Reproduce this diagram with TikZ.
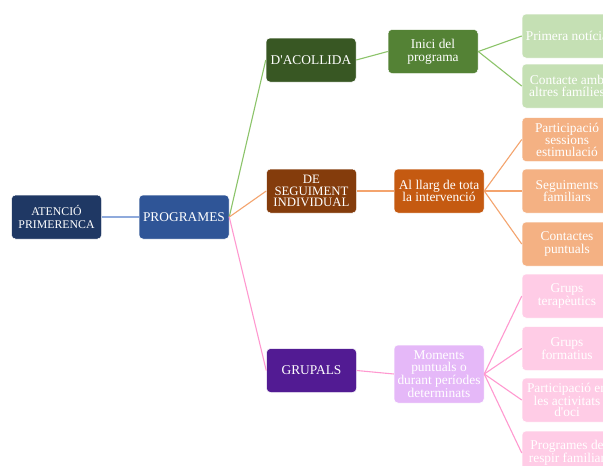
\documentclass[tikz,border=0pt]{standalone}
\usepackage{fontspec}
\setmainfont{Liberation Serif}
\definecolor{navy}{HTML}{1F3864}
\definecolor{progblue}{HTML}{2F5597}
\definecolor{dkgreen}{HTML}{385723}
\definecolor{mdgreen}{HTML}{548235}
\definecolor{ltgreen}{HTML}{C5E0B4}
\definecolor{dkbrown}{HTML}{843C0C}
\definecolor{mdorange}{HTML}{C55A11}
\definecolor{ltorange}{HTML}{F4B183}
\definecolor{dkpurple}{HTML}{521B93}
\definecolor{lavender}{HTML}{E5B8F8}
\definecolor{ltpink}{HTML}{FFCCE6}
\definecolor{lnblue}{HTML}{8FAADC}
\definecolor{lngreen}{HTML}{8CC46A}
\definecolor{lnorange}{HTML}{F4A46E}
\definecolor{lnpink}{HTML}{FF99D0}
\tikzset{
  box/.style={rounded corners=4pt, minimum width=90pt, minimum height=44pt,
    text=white, align=center, inner sep=1pt, draw=white, line width=0.5pt,
    font=\fontsize{13.4}{12.5}\selectfont},
  link/.style={line width=1.1pt},
}
\begin{document}
\begin{tikzpicture}[x=1pt,y=-1pt]
\clip (0,0) rectangle (603,466);
\fill[white] (0,0) rectangle (603,466);
% root and programme level
\node[box, fill=navy, font=\fontsize{11.8}{12.3}\selectfont] (root) at (56.5,217) {ATENCIÓ\\PRIMERENCA};
\node[box, fill=progblue] (prog) at (184,217) {PROGRAMES};
% programme types
\node[box, fill=dkgreen] (acoll) at (311,60) {D\textquotesingle ACOLLIDA};
\node[box, fill=dkbrown, font=\fontsize{12.8}{11.3}\selectfont] (segui) at (311.5,191) {DE\\SEGUIMENT\\INDIVIDUAL};
\node[box, fill=dkpurple] (grup) at (311.5,370.5) {GRUPALS};
% timing
\node[box, fill=mdgreen, font=\fontsize{13.4}{13.3}\selectfont] (inici) at (433,51.5) {Inici del\\programa};
\node[box, fill=mdorange] (llarg) at (439,191) {Al llarg de tota\\la intervenció};
\node[box, fill=lavender, minimum height=58pt, font=\fontsize{13.4}{12}\selectfont] (mom) at (439,374) {Moments\\puntuals o\\durant períodes\\determinats};
% activities
\node[box, fill=ltgreen] (a1) at (567,36) {Primera notícia};
\node[box, fill=ltgreen] (a2) at (567,86) {Contacte amb\\altres famílies};
\node[box, fill=ltorange, font=\fontsize{13.4}{11.3}\selectfont] (b1) at (567,139.5) {Participació\\sessions\\estimulació};
\node[box, fill=ltorange] (b2) at (567,191) {Seguiments\\familiars};
\node[box, fill=ltorange] (b3) at (567,244) {Contactes\\puntuals};
\node[box, fill=ltpink] (c1) at (567,296) {Grups\\terapèutics};
\node[box, fill=ltpink] (c2) at (567,348.5) {Grups\\formatius};
\node[box, fill=ltpink, font=\fontsize{13.4}{11.3}\selectfont] (c3) at (567,400) {Participació en\\les activitats\\d\textquotesingle oci};
\node[box, fill=ltpink] (c4) at (567,453) {Programes de\\respir familiar};
% connectors
\draw[link, lnblue] (root.east) -- (prog.west);
\draw[link, lngreen] (prog.east) -- (acoll.west);
\draw[link, lnorange] (prog.east) -- (segui.west);
\draw[link, lnpink] (prog.east) -- (grup.west);
\draw[link, lngreen] (acoll.east) -- (inici.west);
\draw[link, lnorange] (segui.east) -- (llarg.west);
\draw[link, lnpink] (grup.east) -- (mom.west);
\foreach \t in {a1,a2} \draw[link, lngreen] (inici.east) -- (\t.west);
\foreach \t in {b1,b2,b3} \draw[link, lnorange] (llarg.east) -- (\t.west);
\foreach \t in {c1,c2,c3,c4} \draw[link, lnpink] (mom.east) -- (\t.west);
\end{tikzpicture}
\end{document}
